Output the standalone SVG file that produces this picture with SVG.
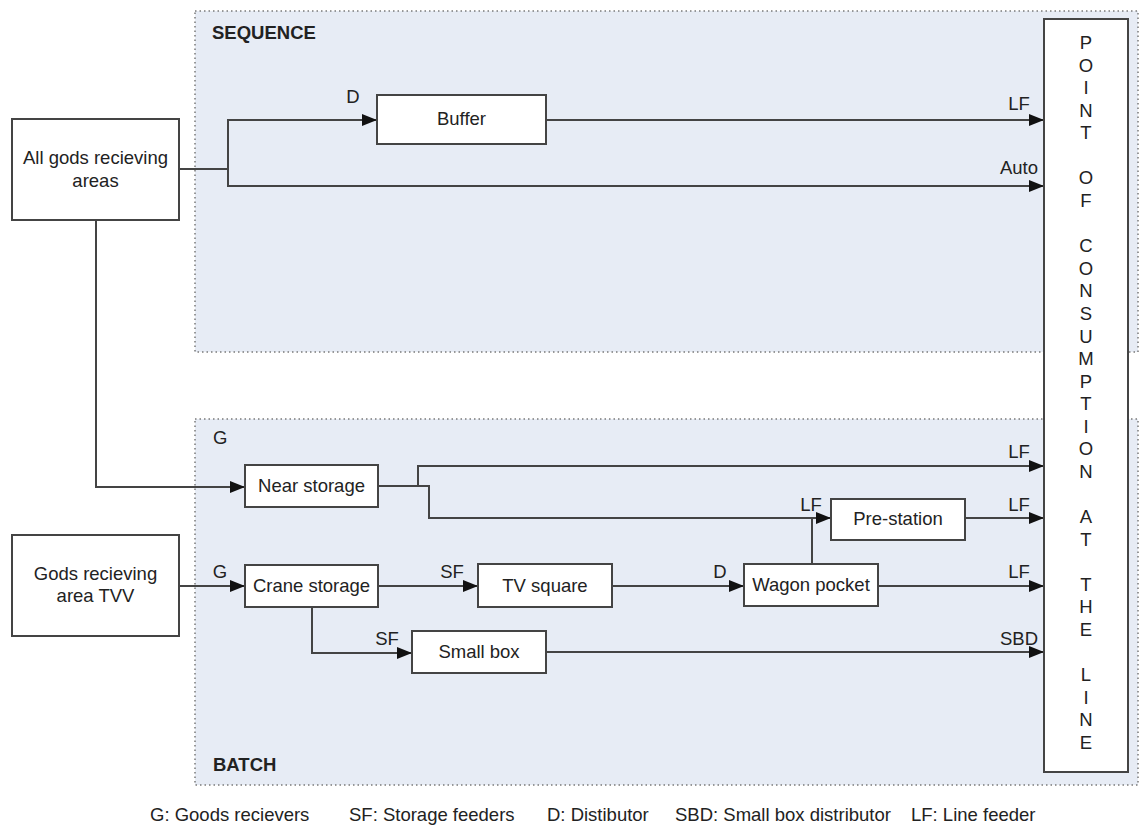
<svg xmlns="http://www.w3.org/2000/svg" width="1142" height="827" viewBox="0 0 1142 827">
<style>
.region{fill:#e7ecf5;stroke:#7a7a7a;stroke-width:1.5;stroke-dasharray:1.5 3}
.box{fill:#ffffff;stroke:#444;stroke-width:2}
.t{font-family:"Liberation Sans",Arial,sans-serif;font-size:18.5px;fill:#222}
.c{text-anchor:middle}
.b{font-weight:bold}
.ln{fill:none;stroke:#444;stroke-width:2}
.lbl{font-family:"Liberation Sans",Arial,sans-serif;font-size:18.5px;fill:#222;text-anchor:middle}
</style>
<defs>
<marker id="ah" markerWidth="15" markerHeight="12" refX="15" refY="6" orient="auto" markerUnits="userSpaceOnUse">
<path d="M0,0 L15,6 L0,12 Z" fill="#111"/>
</marker>
</defs>
<rect width="1142" height="827" fill="#ffffff"/>
<g id="region-sequence">
<rect class="region" x="195" y="11" width="943" height="341"/>
<text class="t b" x="212" y="39">SEQUENCE</text>
</g>
<g id="region-batch">
<rect class="region" x="195" y="419" width="943" height="366"/>
<text class="t" x="213" y="444">G</text>
<text class="t b" x="213" y="771">BATCH</text>
</g>
<g id="connectors">
<path class="ln" d="M179,169 H228 V120 H377" marker-end="url(#ah)"/>
<path class="ln" d="M228,169 V186 H1044" marker-end="url(#ah)"/>
<path class="ln" d="M546,120 H1044" marker-end="url(#ah)"/>
<path class="ln" d="M96,220 V487 H245" marker-end="url(#ah)"/>
<path class="ln" d="M378,486 H418 V466 H1044" marker-end="url(#ah)"/>
<path class="ln" d="M418,486 H429 V518 H831" marker-end="url(#ah)"/>
<path class="ln" d="M179,586 H245" marker-end="url(#ah)"/>
<path class="ln" d="M378,586 H478" marker-end="url(#ah)"/>
<path class="ln" d="M612,586 H744" marker-end="url(#ah)"/>
<path class="ln" d="M812,564 V518"/>
<path class="ln" d="M965,518 H1044" marker-end="url(#ah)"/>
<path class="ln" d="M878,586 H1044" marker-end="url(#ah)"/>
<path class="ln" d="M312,607 V653 H412" marker-end="url(#ah)"/>
<path class="ln" d="M546,652 H1044" marker-end="url(#ah)"/>
<text class="lbl" x="353" y="103">D</text>
<text class="lbl" x="1019" y="110">LF</text>
<text class="lbl" x="1019" y="174">Auto</text>
<text class="lbl" x="1019" y="458">LF</text>
<text class="lbl" x="811" y="511">LF</text>
<text class="lbl" x="1019" y="511">LF</text>
<text class="lbl" x="220" y="578">G</text>
<text class="lbl" x="452" y="578">SF</text>
<text class="lbl" x="720" y="578">D</text>
<text class="lbl" x="1019" y="578">LF</text>
<text class="lbl" x="387" y="645">SF</text>
<text class="lbl" x="1019" y="645">SBD</text>
</g>
<g id="node-all-gods">
<rect class="box" x="12" y="119" width="167" height="101"/>
<text class="t c" x="95.5" y="164">All gods recieving</text>
<text class="t c" x="95.5" y="187">areas</text>
</g>
<g id="node-gods-tvv">
<rect class="box" x="12" y="535" width="167" height="101"/>
<text class="t c" x="95.5" y="580">Gods recieving</text>
<text class="t c" x="95.5" y="602">area TVV</text>
</g>
<g id="node-buffer">
<rect class="box" x="377" y="95" width="169" height="49"/>
<text class="t c" x="461.5" y="125">Buffer</text>
</g>
<g id="node-near-storage">
<rect class="box" x="245" y="465" width="133" height="42"/>
<text class="t c" x="311.5" y="492">Near storage</text>
</g>
<g id="node-crane-storage">
<rect class="box" x="245" y="565" width="133" height="42"/>
<text class="t c" x="311.5" y="592">Crane storage</text>
</g>
<g id="node-tv-square">
<rect class="box" x="478" y="564" width="134" height="43"/>
<text class="t c" x="545" y="592">TV square</text>
</g>
<g id="node-wagon-pocket">
<rect class="box" x="744" y="564" width="134" height="42"/>
<text class="t c" x="811" y="591">Wagon pocket</text>
</g>
<g id="node-pre-station">
<rect class="box" x="831" y="499" width="134" height="41"/>
<text class="t c" x="898" y="525">Pre-station</text>
</g>
<g id="node-small-box">
<rect class="box" x="412" y="631" width="134" height="42"/>
<text class="t c" x="479" y="658">Small box</text>
</g>
<g id="node-poc">
<rect class="box" x="1044" y="19" width="84" height="753"/>
<text class="t c" x="1086" y="49"><tspan x="1086">P</tspan><tspan x="1086" dy="22.58">O</tspan><tspan x="1086" dy="22.58">I</tspan><tspan x="1086" dy="22.58">N</tspan><tspan x="1086" dy="22.58">T</tspan><tspan x="1086" dy="45.16">O</tspan><tspan x="1086" dy="22.58">F</tspan><tspan x="1086" dy="45.16">C</tspan><tspan x="1086" dy="22.58">O</tspan><tspan x="1086" dy="22.58">N</tspan><tspan x="1086" dy="22.58">S</tspan><tspan x="1086" dy="22.58">U</tspan><tspan x="1086" dy="22.58">M</tspan><tspan x="1086" dy="22.58">P</tspan><tspan x="1086" dy="22.58">T</tspan><tspan x="1086" dy="22.58">I</tspan><tspan x="1086" dy="22.58">O</tspan><tspan x="1086" dy="22.58">N</tspan><tspan x="1086" dy="45.16">A</tspan><tspan x="1086" dy="22.58">T</tspan><tspan x="1086" dy="45.16">T</tspan><tspan x="1086" dy="22.58">H</tspan><tspan x="1086" dy="22.58">E</tspan><tspan x="1086" dy="45.16">L</tspan><tspan x="1086" dy="22.58">I</tspan><tspan x="1086" dy="22.58">N</tspan><tspan x="1086" dy="22.58">E</tspan></text>
</g>
<g id="legend">
<text class="t" x="150" y="821">G: Goods recievers</text>
<text class="t" x="349" y="821">SF: Storage feeders</text>
<text class="t" x="547" y="821">D: Distibutor</text>
<text class="t" x="675" y="821">SBD: Small box distributor</text>
<text class="t" x="911" y="821">LF: Line feeder</text>
</g>
</svg>
